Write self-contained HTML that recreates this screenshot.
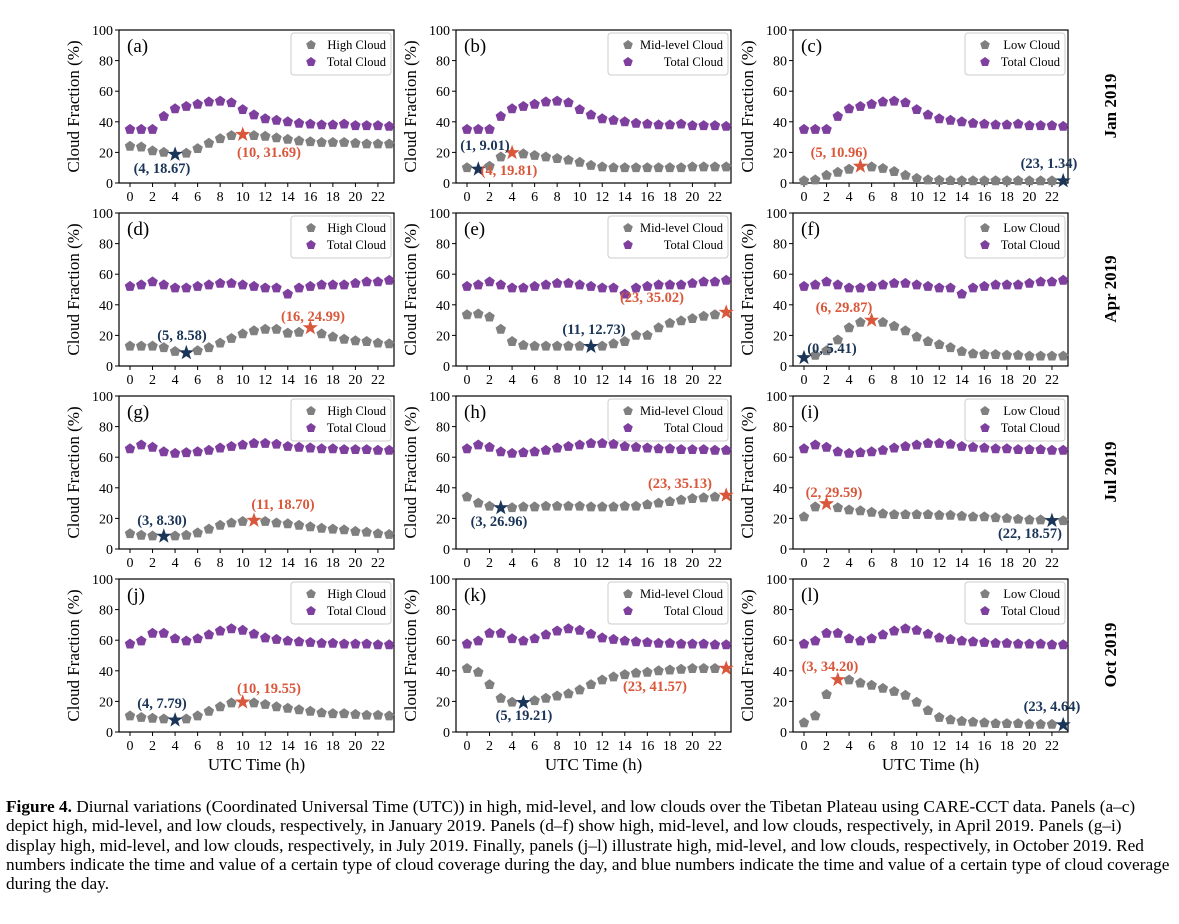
<!DOCTYPE html>
<html><head><meta charset="utf-8"><style>
body{margin:0;background:#fff;width:1179px;height:924px;overflow:hidden}
svg text{font-family:"Liberation Serif",serif}
.cap{position:absolute;left:6px;top:797px;width:1172px;font-family:"Liberation Serif",serif;font-size:17.3px;line-height:19.3px;color:#000;white-space:nowrap}
</style></head><body>
<svg id="s" width="1179" height="800" style="position:absolute;left:0;top:0"></svg>
<div class="cap"><b>Figure 4.</b> Diurnal variations (Coordinated Universal Time (UTC)) in high, mid-level, and low clouds over the Tibetan Plateau using CARE-CCT data. Panels (a–c)<br>depict high, mid-level, and low clouds, respectively, in January 2019. Panels (d–f) show high, mid-level, and low clouds, respectively, in April 2019. Panels (g–i)<br>display high, mid-level, and low clouds, respectively, in July 2019. Finally, panels (j–l) illustrate high, mid-level, and low clouds, respectively, in October 2019. Red<br>numbers indicate the time and value of a certain type of cloud coverage during the day, and blue numbers indicate the time and value of a certain type of cloud coverage<br>during the day.</div>
<script>
const T=[[35,35,35,43.5,48.5,50,51.5,53,53.5,52.5,48,44.5,42,41,40,39,38.5,38,38,38.5,37.5,37.5,37.5,37],
[52,53,55,53,51,51,52,53,54,54,53,52,51,51,47,51,52,53,53,53,54,55,55,56],
[65.5,68,66.5,63.5,62.5,63,63.5,64.5,66,67,68,69,69,68.5,67,66.5,66,65.5,65.5,65,65,65,64.5,64.5],
[57.5,59.5,64.5,64.5,61,59.5,61,63.5,66,67.5,66.5,64,61.5,60.5,59.5,59,58.5,58,58,57.5,57.5,57.5,57,57]];
const D=[
[[24,23.5,21,20,18.67,19.5,22.5,26,29,31,31.69,31,30.5,29.5,28.5,27.5,27,26.5,26.5,26.5,26,25.5,25.5,25.5],
 [10,9.01,11,17,19.81,19,18,17,16,15,13.5,11.5,10.5,10,10,10,10,10,10,10,10.5,10.5,10.5,10.5],
 [1.5,2,5,7,9,10.96,10.5,9.5,7.5,5,3,2,1.8,1.6,1.5,1.5,1.5,1.5,1.5,1.5,1.4,1.4,1.4,1.34]],
[[13,13,13,12,9.5,8.58,10,12,15,18,21,23,24,24,21.5,22,24.99,21,19,17.5,16.5,16,15,14.5],
 [33.5,34,32,24,16,13.5,13,13,13,13,13,12.73,13,14.5,16,20,20,25,28,29.5,31,32.5,33.5,35.02],
 [5.41,7,10,17,25,28.5,29.87,28.5,26,23,19,16,14,12,9.5,8,7.5,7.5,7,7,6.5,6.5,6.5,6.5]],
[[10,9,8.5,8.3,8.5,9,10.5,13,15.5,17,18,18.7,18,17,16.5,15.5,14.5,13.5,13,12.5,11.5,11,10,9.5],
 [34,30,28,26.96,27,27.5,27.5,28,28,28,28,27.5,27.5,27.5,28,28,29,30,31,32,33,33.5,34,35.13],
 [21,27.5,29.59,27,25.5,25,24,23,22.5,22.5,22.5,22.5,22,22,21.5,21,21,20.5,20,19.5,19,19,18.57,18.5]],
[[10.5,9.5,9,8.5,7.79,8.5,10.5,13.5,16.5,19,19.55,19,18,16.5,15.5,14.5,13.5,12.5,12,12,11.5,11,11,10.5],
 [41.5,39,31,22,19.5,19.21,20.5,22,23.5,25,27.5,31,34,36,37.5,38.5,39,40,40.5,41,41.5,41.5,41.5,41.57],
 [6,10.5,24.5,34.2,34,32,30.5,28.5,26.5,24,19.5,14,9.5,8,7,6.5,6,5.5,5.5,5.5,5,5,5,4.64]]];
const A=[
[[4,"(4, 18.67)",162,168,10,"(10, 31.69)",269,152],[1,"(1, 9.01)",485,145,4,"(4, 19.81)",509,170],[23,"(23, 1.34)",1049,163,5,"(5, 10.96)",839,152]],
[[5,"(5, 8.58)",182,335,16,"(16, 24.99)",313,316],[11,"(11, 12.73)",594,329,23,"(23, 35.02)",652,297],[0,"(0, 5.41)",832,348,6,"(6, 29.87)",844,307]],
[[3,"(3, 8.30)",162,520,11,"(11, 18.70)",283,504],[3,"(3, 26.96)",499,521,23,"(23, 35.13)",680,483],[22,"(22, 18.57)",1030,533,2,"(2, 29.59)",834,492]],
[[4,"(4, 7.79)",162,703,10,"(10, 19.55)",269,688],[5,"(5, 19.21)",524,715,23,"(23, 41.57)",655,686],[23,"(23, 4.64)",1052,706,3,"(3, 34.20)",830,666]]];
const L=["(a)","(b)","(c)","(d)","(e)","(f)","(g)","(h)","(i)","(j)","(k)","(l)"];
const N=["High Cloud","Mid-level Cloud","Low Cloud"];
const M=["Jan 2019","Apr 2019","Jul 2019","Oct 2019"];
let h="";
function pent(x,y,r,c){let p=[];for(let i=0;i<5;i++){let a=-Math.PI/2+i*2*Math.PI/5;p.push((x+r*Math.cos(a)).toFixed(1)+","+(y+r*Math.sin(a)).toFixed(1));}return `<polygon points="${p.join(" ")}" fill="${c}"/>`;}
function star(x,y,r,c){let p=[];for(let i=0;i<10;i++){let a=-Math.PI/2+i*Math.PI/5,rr=i%2?r*0.4:r;p.push((x+rr*Math.cos(a)).toFixed(1)+","+(y+rr*Math.sin(a)).toFixed(1));}return `<polygon points="${p.join(" ")}" fill="${c}"/>`;}
const G="#808080",P="#7e3f9e",R="#d9573b",B="#1b3558";
for(let r=0;r<4;r++){const top=30+r*183,bot=top+153;
 for(let c=0;c<3;c++){const l=119+c*337,rt=l+275;const X=i=>l+11+i*11.27,Y=v=>bot-v*1.53;
  h+=`<rect x="${l}" y="${top}" width="275" height="153" fill="none" stroke="#000" stroke-width="1.2"/>`;
  for(let v=0;v<=100;v+=20){h+=`<line x1="${l-4}" x2="${l}" y1="${Y(v)}" y2="${Y(v)}" stroke="#000"/><text x="${l-6}" y="${Y(v)+5}" font-size="14" text-anchor="end">${v}</text>`;}
  for(let i=0;i<=22;i+=2){h+=`<line x1="${X(i)}" x2="${X(i)}" y1="${bot}" y2="${bot+4}" stroke="#000"/><text x="${X(i)}" y="${bot+18}" font-size="14" text-anchor="middle">${i}</text>`;}
  h+=`<text transform="translate(${l-40},${(top+bot)/2}) rotate(-90)" font-size="17" text-anchor="middle">Cloud Fraction (%)</text>`;
  if(r==3)h+=`<text x="${(l+rt)/2}" y="${bot+38}" font-size="17" text-anchor="middle">UTC Time (h)</text>`;
  h+=`<text x="${l+8}" y="${top+22}" font-size="19">${L[r*3+c]}</text>`;
  const lw=c==1?120:100;
  h+=`<rect x="${rt-lw-3}" y="${top+3}" width="${lw}" height="42" rx="3" fill="#fff" stroke="#ccc"/>`;
  h+=pent(rt-lw+17,top+15,5,G)+pent(rt-lw+17,top+32,5,P);
  h+=`<text x="${rt-8}" y="${top+19}" font-size="12.5" text-anchor="end">${N[c]}</text><text x="${rt-8}" y="${top+36}" font-size="12.5" text-anchor="end">Total Cloud</text>`;
  const d=D[r][c],a=A[r][c];
  for(let i=0;i<24;i++){h+=pent(X(i),Y(T[r][i]),5.5,P);if(i!=a[0]&&i!=a[4])h+=pent(X(i),Y(d[i]),5.5,G);}
  h+=star(X(a[0]),Y(d[a[0]]),8,B)+star(X(a[4]),Y(d[a[4]]),8,R);
  h+=`<text x="${a[2]}" y="${a[3]+5}" font-size="14.5" font-weight="bold" fill="${B}" text-anchor="middle">${a[1]}</text>`;
  h+=`<text x="${a[6]}" y="${a[7]+5}" font-size="14.5" font-weight="bold" fill="${R}" text-anchor="middle">${a[5]}</text>`;
 }
 h+=`<text transform="translate(1116,${top+76}) rotate(-90)" font-size="17" font-weight="bold" text-anchor="middle">${M[r]}</text>`;
}
document.getElementById("s").innerHTML=h;
</script>
</body></html>
